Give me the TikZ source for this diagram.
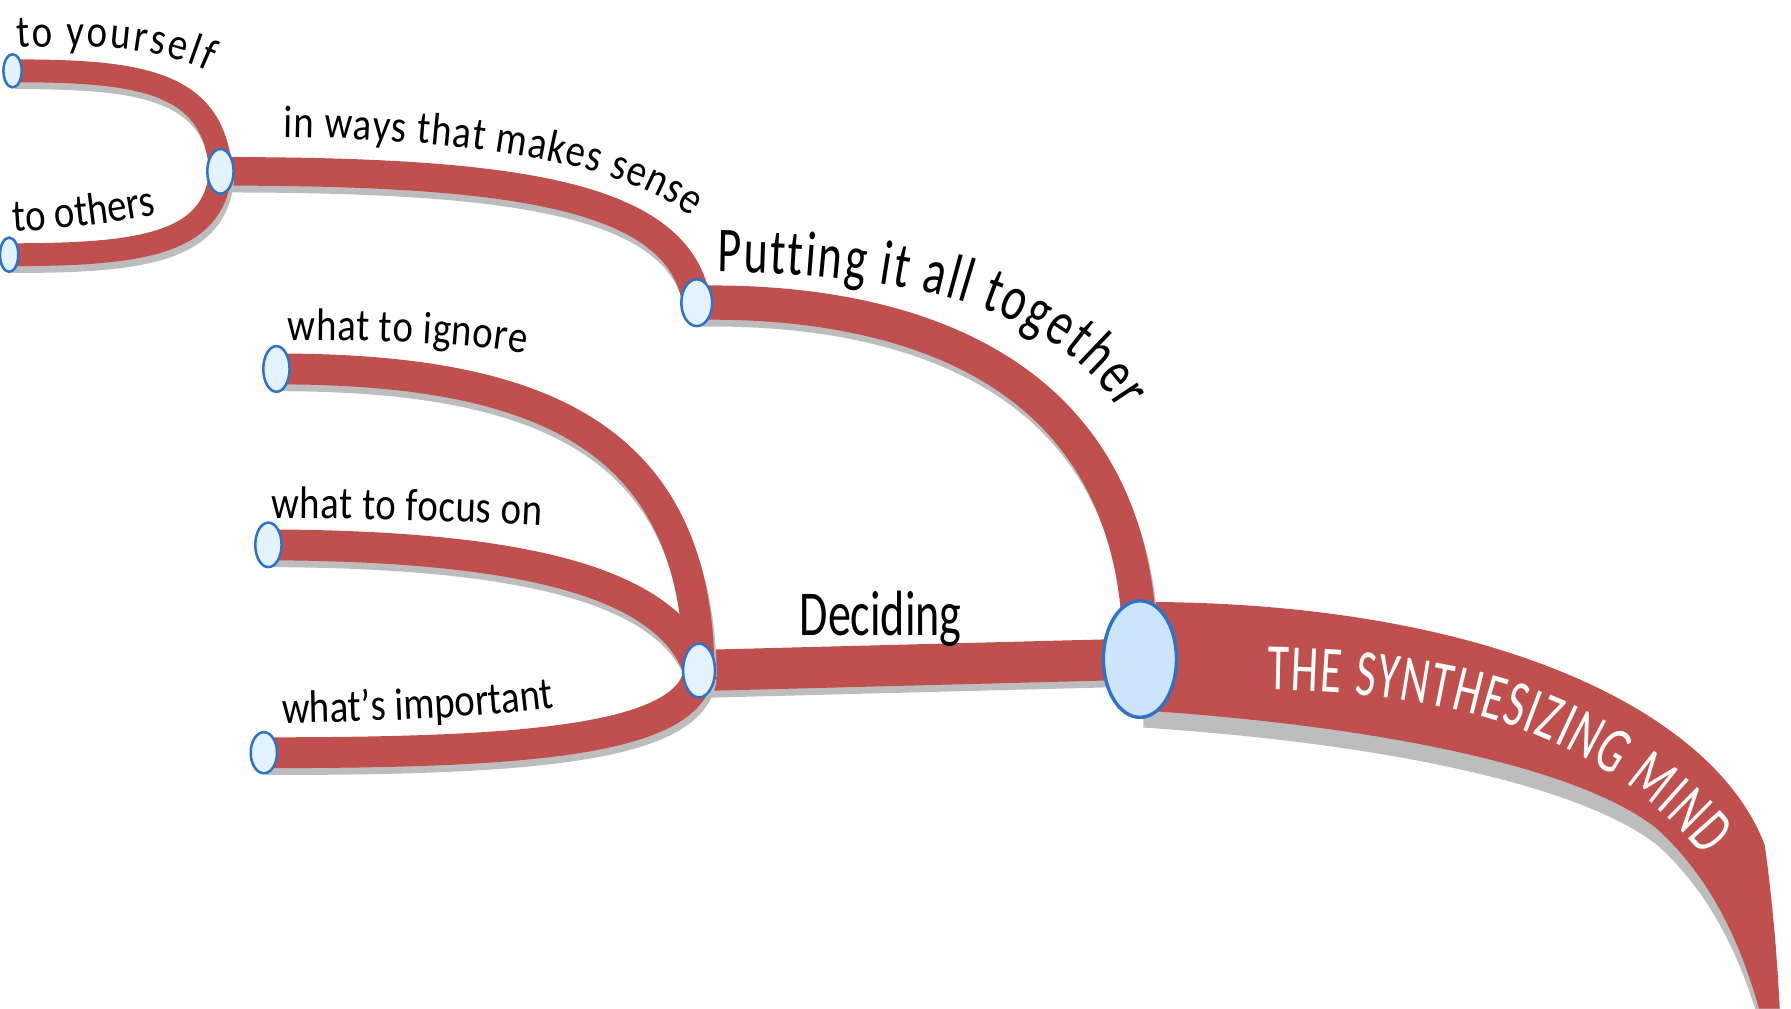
\documentclass[tikz,border=0pt]{standalone}
\usepackage{fontspec}
\setmainfont{Carlito}
\newfontfamily\lblfam{Carlito}[FakeStretch=0.85]
\newfontfamily\bigfam{Carlito}[FakeStretch=0.72]
\newfontfamily\trunkfam{Carlito}[FakeStretch=0.66]
\usetikzlibrary{shapes.geometric,decorations.text}
\pgfdeclarelayer{bg}
\pgfsetlayers{bg,main}
\definecolor{mred}{HTML}{C0504D}
\definecolor{shgrey}{HTML}{BDBDBD}
\definecolor{nfill}{HTML}{E2F3FD}
\definecolor{cfill}{HTML}{CDE5FA}
\definecolor{nborder}{HTML}{2F73C9}
\newcommand\lblfont{\lblfam\fontsize{40}{44}\selectfont}
\newcommand\headfont{\bigfam\fontsize{56}{60}\selectfont}
\newcommand\trunkfont{\trunkfam\fontsize{58}{62}\selectfont\color{white}}
\tikzset{
  bnode/.style={ellipse, draw=nborder, line width=2.2pt, fill=nfill, inner sep=0pt, outer sep=0pt},
  branch/.style={draw=mred, line width=#1, preaction={draw=shgrey, line width=#1, transform canvas={shift={(2pt,-6pt)}}}},
  curvelbl/.style 2 args={decorate, decoration={text along path, text align=fit to path, text={|#1|#2}}},
}
\begin{document}
\begin{tikzpicture}[x=1pt,y=-1pt]
\useasboundingbox (0,0) rectangle (1568,883);
\clip (0,0) rectangle (1568,883);
% nodes
\node[bnode, minimum width=64pt, minimum height=102pt, fill=cfill, line width=3pt] (center) at (998,577) {};
\node[bnode, minimum width=16pt, minimum height=29pt] (yourself) at (11,62) {};
\node[bnode, minimum width=16pt, minimum height=30pt] (others) at (8,223) {};
\node[bnode, minimum width=23pt, minimum height=39pt] (ways) at (193,150) {};
\node[bnode, minimum width=27pt, minimum height=41pt] (putting) at (610,265) {};
\node[bnode, minimum width=23pt, minimum height=40pt] (ignore) at (242,323) {};
\node[bnode, minimum width=23pt, minimum height=39pt] (focus) at (235,477) {};
\node[bnode, minimum width=23pt, minimum height=36pt] (important) at (231,659) {};
\node[bnode, minimum width=28pt, minimum height=47pt] (deciding) at (612,587) {};
\begin{pgfonlayer}{bg}
\fill[white] (0,0) rectangle (1568,883);
% trunk shadow and trunk
\begin{scope}[shift={(1,15)}]
\fill[shgrey] (1000,527) .. controls (1300,527) and (1500,620) .. (1545,740) .. controls (1552,790) and (1556,840) .. (1558,883) -- (1540,883) .. controls (1525,830) and (1500,770) .. (1450,725) .. controls (1380,670) and (1200,635) .. (1000,622) -- cycle;
\end{scope}
\fill[mred] (1000,527) .. controls (1300,527) and (1500,620) .. (1545,740) .. controls (1552,790) and (1556,840) .. (1558,883) -- (1540,883) .. controls (1525,830) and (1500,770) .. (1450,725) .. controls (1380,670) and (1200,635) .. (1000,622) -- cycle;
% branches
\draw[branch=30pt] (center.center) .. controls (1000,320) and (790,262) .. (putting.center);
\draw[branch=36pt] (deciding.center) -- (center.center);
\draw[branch=27pt] (deciding.center) .. controls (610,380) and (470,323) .. (ignore.center);
\draw[branch=27pt] (deciding.center) .. controls (585,510) and (460,478) .. (focus.center);
\draw[branch=27pt] (deciding.center) .. controls (605,650) and (450,659) .. (important.center);
\draw[branch=25pt] (putting.center) .. controls (595,170) and (450,150) .. (ways.center);
\draw[branch=20pt] (ways.center) .. controls (188,70) and (120,62) .. (yourself.center);
\draw[branch=20pt] (ways.center) .. controls (188,215) and (120,223) .. (others.center);
\end{pgfonlayer}
% labels
\path[curvelbl={\lblfont}{to yourself}] (15,42) .. controls (80,38) and (140,42) .. (182,62);
\path[curvelbl={\lblfont}{to others}] (12,203) .. controls (60,200) and (100,195) .. (137,188);
\path[curvelbl={\lblfont}{in ways that makes sense}] (248,120) .. controls (380,122) and (535,135) .. (605,190);
\path[curvelbl={\headfont}{Putting it all together}] (628,238) .. controls (780,240) and (920,262) .. (980,360);
\path[curvelbl={\lblfont}{what to ignore}] (252,298) .. controls (330,298) and (410,300) .. (460,310);
\path[curvelbl={\lblfont}{what to focus on}] (238,454) .. controls (320,454) and (400,456) .. (474,460);
\path[curvelbl={\lblfont}{what’s important}] (247,633) .. controls (330,632) and (420,628) .. (482,620);
\node[font=\headfont, anchor=base, inner sep=0pt] (decidinglbl) at (771,556) {Deciding};
\path[curvelbl={\trunkfont}{THE SYNTHESIZING MIND}] (1110,604) .. controls (1270,606) and (1400,640) .. (1492,750);
\end{tikzpicture}
\end{document}
